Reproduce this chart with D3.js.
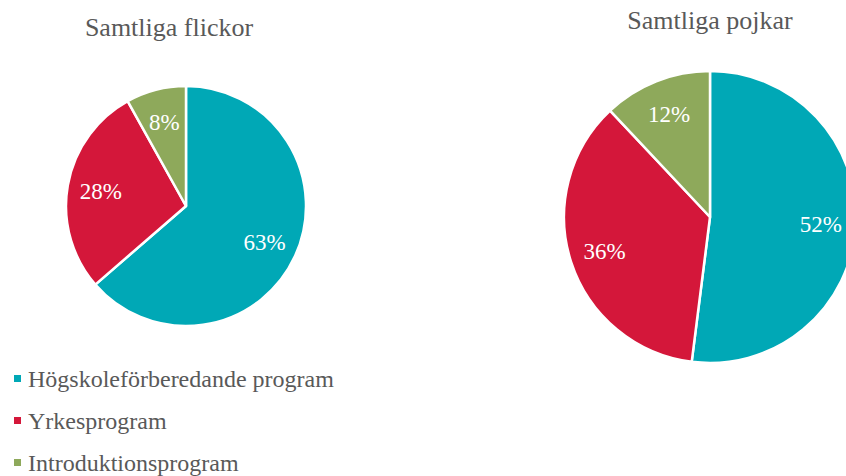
<!DOCTYPE html>
<html><head><meta charset="utf-8">
<script src="https://cdn.jsdelivr.net/npm/d3@7"></script>
<style>html,body{margin:0;padding:0;background:#fff;overflow:hidden}
svg text{font-family:"Liberation Serif","Times New Roman",Times,"DejaVu Serif",serif;}</style>
</head><body>
<script>
const categories = ["Högskoleförberedande program", "Yrkesprogram", "Introduktionsprogram"];
const colors = ["#00A8B6", "#D4173A", "#8EA95B"];
const girlsValues = [63, 28, 8];
const boysValues = [52, 36, 12];
const girlsLabels = ["63%", "28%", "8%"];
const boysLabels = ["52%", "36%", "12%"];
const titles = ["Samtliga flickor", "Samtliga pojkar"];

const W = 846, H = 476;
const FONT = "Liberation Serif, Times New Roman, serif";
const svg = d3.select("body").append("svg").attr("width", W).attr("height", H);

const color = d3.scaleOrdinal().domain(categories).range(colors);
const pie = d3.pie().sort(null).value(d => d.v);

const pies = [
  {title: titles[0], values: girlsValues, labels: girlsLabels, cx: 186, cy: 206, r: 120, lr: 0.72, tx: 169, ty: 36},
  {title: titles[1], values: boysValues, labels: boysLabels, cx: 710, cy: 217, r: 146, lr: 0.76, tx: 710, ty: 29}
];

pies.forEach(p => {
  const data = categories.map((c, i) => ({c, v: p.values[i], l: p.labels[i]}));
  const arcs = pie(data);
  const arc = d3.arc().innerRadius(0).outerRadius(p.r);
  const larc = d3.arc().innerRadius(p.r * p.lr).outerRadius(p.r * p.lr);
  const g = svg.append("g").attr("transform", `translate(${p.cx},${p.cy})`);
  g.selectAll("path").data(arcs).join("path")
    .attr("d", arc).attr("fill", d => color(d.data.c))
    .attr("stroke", "#fff").attr("stroke-width", 2.5).attr("stroke-linejoin", "round");
  g.selectAll("text").data(arcs).join("text")
    .attr("transform", d => `translate(${larc.centroid(d)})`)
    .attr("text-anchor", "middle").attr("dy", "0.35em")
    .attr("font-family", FONT)
    .attr("fill", "#fff").attr("font-size", 23)
    .text(d => d.data.l);
  svg.append("text").attr("x", p.tx).attr("y", p.ty).attr("text-anchor", "middle")
    .attr("font-family", FONT)
    .attr("fill", "#595959").attr("font-size", 26).text(p.title);
});

const legend = svg.append("g");
const ly = d3.scalePoint().domain(categories).range([379, 463]);
categories.forEach(c => {
  legend.append("rect").attr("x", 14).attr("y", ly(c) - 4).attr("width", 7).attr("height", 7).attr("fill", color(c));
  legend.append("text").attr("x", 28).attr("y", ly(c)).attr("dy", "0.35em")
    .attr("font-family", FONT)
    .attr("fill", "#595959").attr("font-size", 24).text(c);
});
</script>
</body></html>
